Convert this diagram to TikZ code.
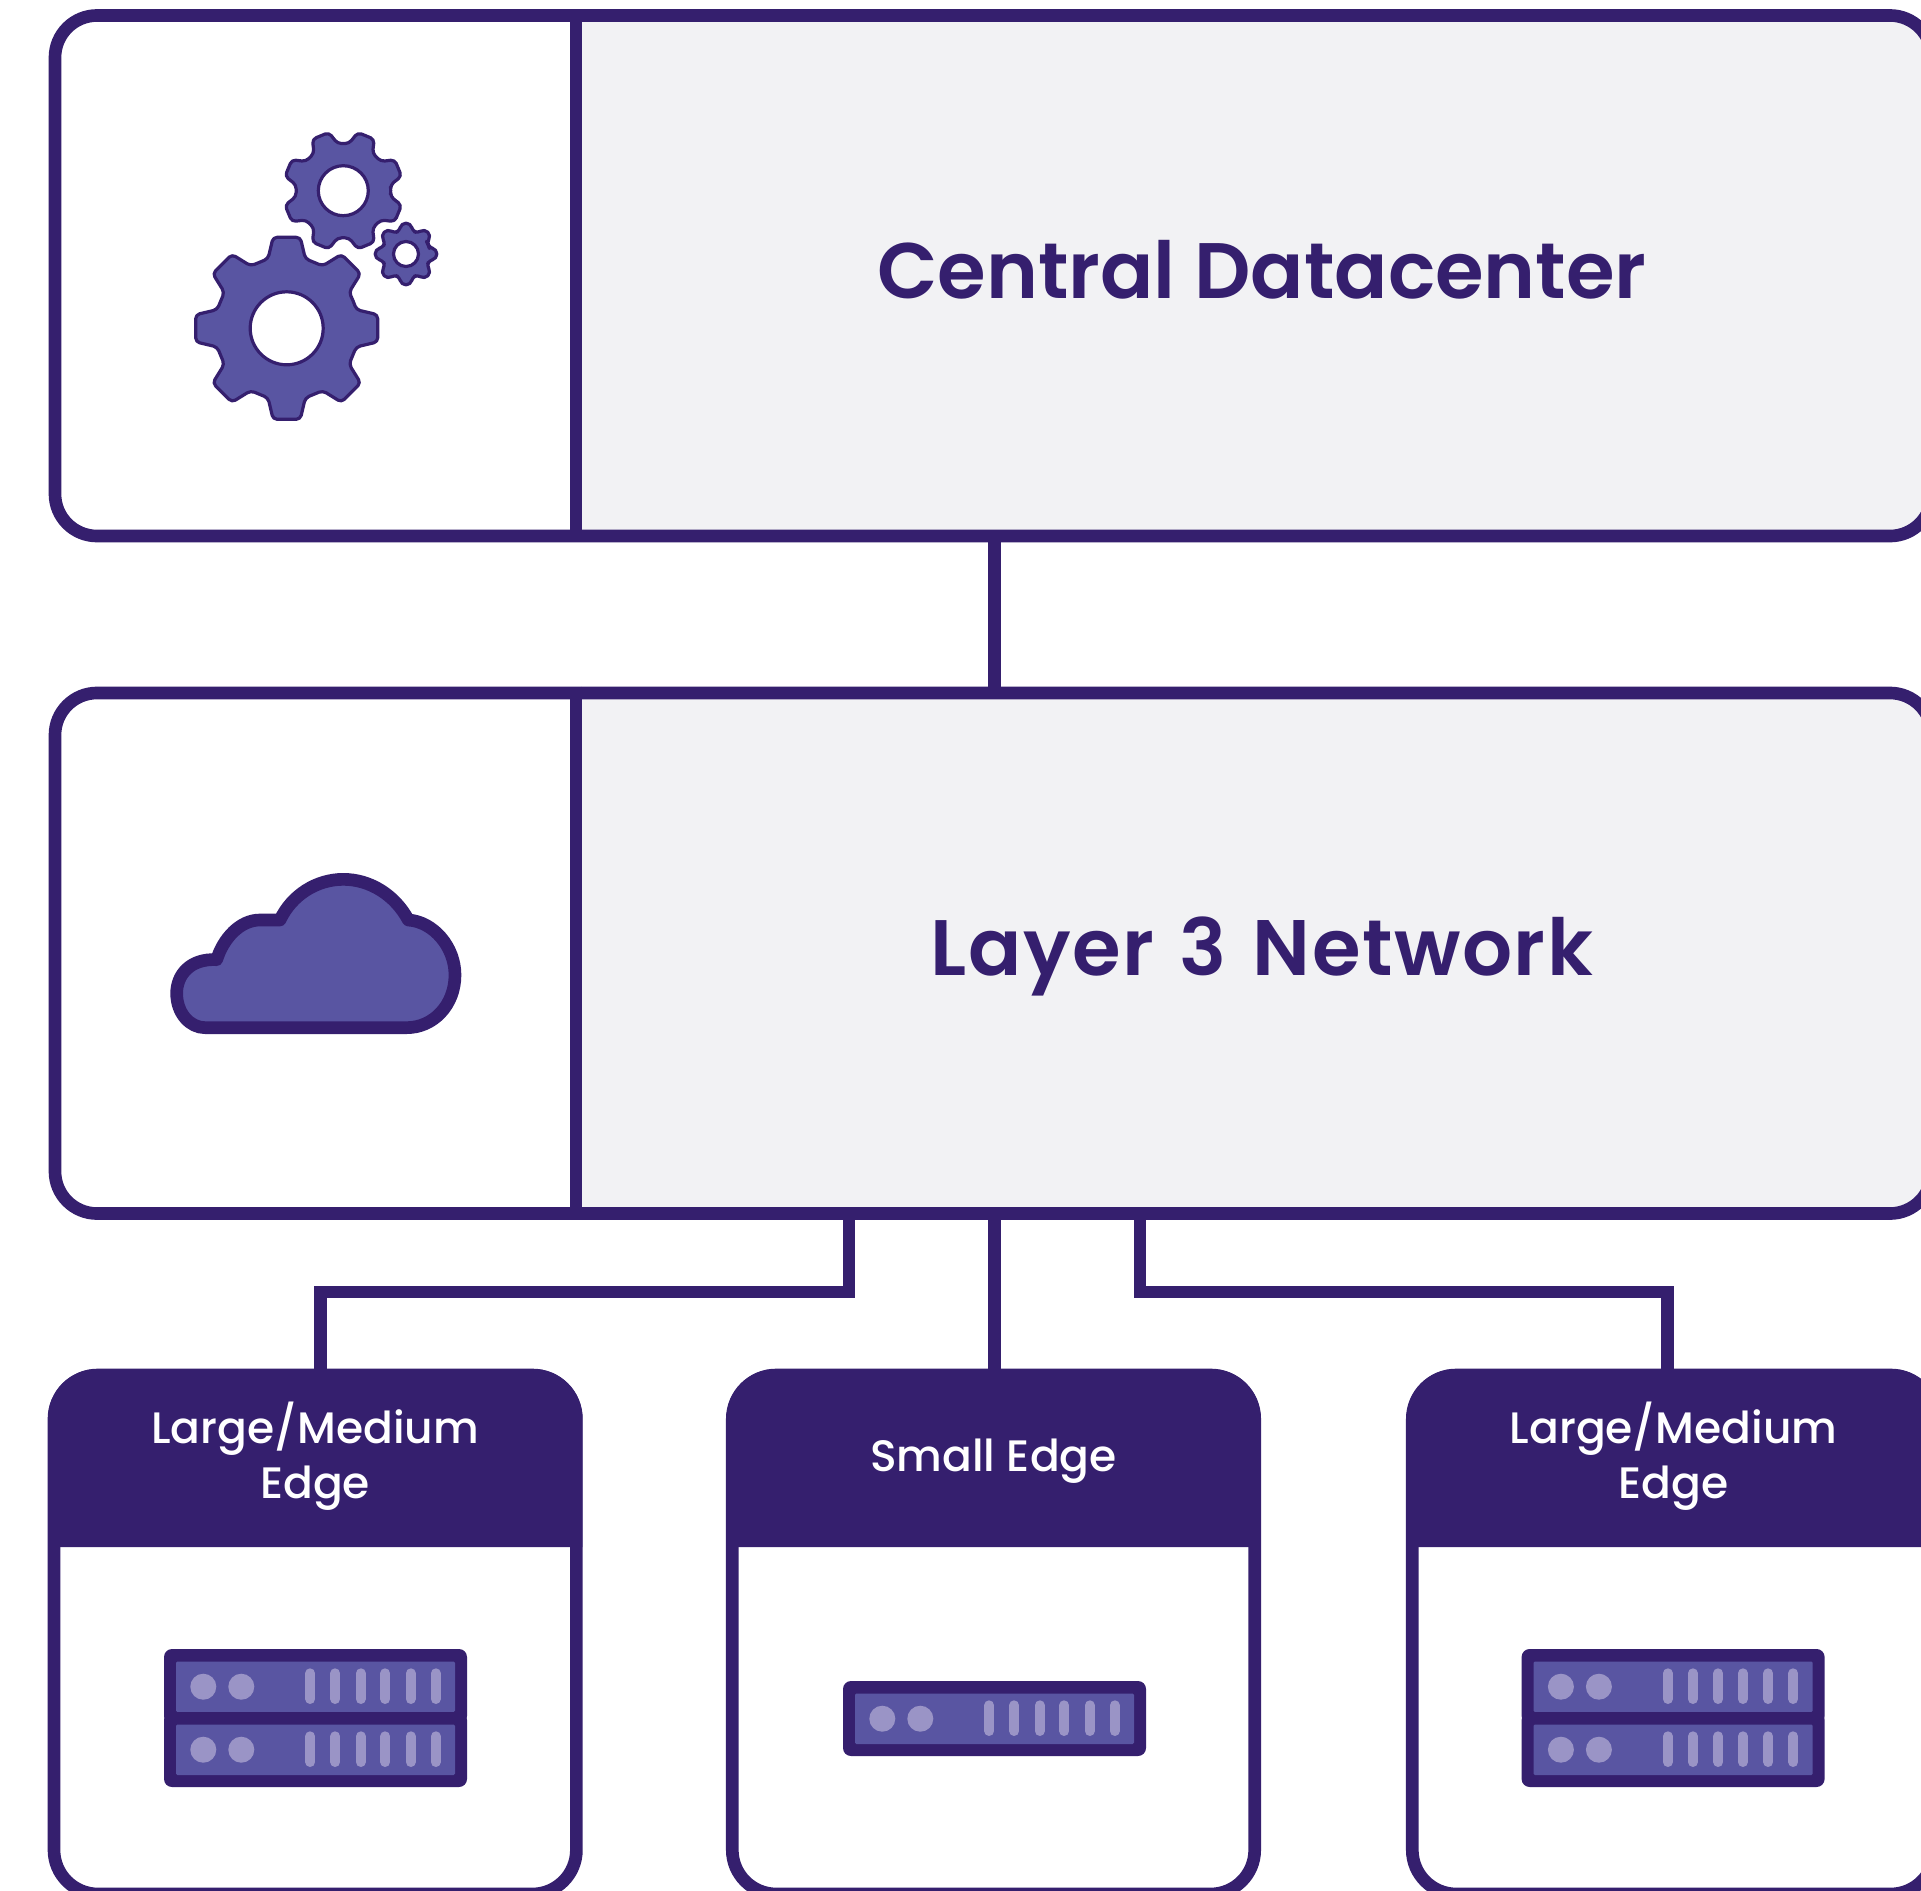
\documentclass[tikz,border=0pt]{standalone}
\usepackage{fontspec}
\setmainfont{Poppins}
\newfontfamily\titleface{Poppins}[UprightFont=* SemiBold]
\newfontfamily\cardface{Poppins}[UprightFont=* Medium]
\definecolor{inkdark}{HTML}{351F6E}
\definecolor{inkmid}{HTML}{5955A2}
\definecolor{inklight}{HTML}{9A94C6}
\definecolor{panelgray}{HTML}{F2F2F4}
\tikzset{
  panel/.style={draw=inkdark,line width=9.5pt,rounded corners=31.5pt,minimum width=1407.75pt,minimum height=390.4pt,inner sep=0pt},
  card/.style={draw=inkdark,line width=9.5pt,rounded corners=33pt,minimum width=391.8pt,minimum height=389.25pt,inner sep=0pt},
  wire/.style={draw=inkdark,line width=9.5pt,line join=miter},
  titletext/.style={text=inkdark,font=\fontsize{59}{70}\selectfont\titleface,anchor=base,inner sep=0pt},
  cardtext/.style={text=white,font=\fontsize{33}{41}\selectfont\cardface,align=center,anchor=center,inner sep=0pt},
  cogshape/.style={draw=inkdark,fill=inkmid,line width=2.4pt,rounded corners=3pt,line join=round},
  coghole/.style={draw=inkdark,fill=white,line width=2.4pt},
  cloudshape/.style={draw=inkdark,fill=inkmid,line width=9.5pt,line join=round},
  unitbar/.style={draw=inklight,line width=7.5pt,line cap=round},
}
% cx cy rotation tipR rootR tipHalfAngle baseHalfAngle holeR
\newcommand\cogwheel[8]{%
  \begin{scope}[shift={(#1,#2)}]
    \draw[cogshape] ({#3-22.5}:#5)
      \foreach \k in {0,...,7}{
        -- ({#3+45*\k-#7}:#5) -- ({#3+45*\k-#6}:#4) -- ({#3+45*\k+#6}:#4) -- ({#3+45*\k+#7}:#5)
      } -- cycle;
    \draw[coghole] (0,0) circle[radius=#8];
  \end{scope}}
% left, top of one rack unit
\newcommand\rackunit[2]{%
  \begin{scope}[shift={(#1,#2)}]
    \fill[inkdark,rounded corners=6pt] (0,0) rectangle (303,75);
    \fill[inkmid,rounded corners=1pt] (12,12.5) rectangle (291,63);
    \fill[inklight] (39.3,37.7) circle[radius=13] (77.3,37.7) circle[radius=13];
    \foreach \bx in {146.3,171.3,196.7,221.3,246.7,271.7}
      \draw[unitbar] (\bx,24.3) -- (\bx,50);
  \end{scope}}
\begin{document}
\begin{tikzpicture}[x=0.75pt,y=-0.75pt]
\useasboundingbox (0,0) rectangle (1921,1891);
\clip (0,0) rectangle (1921,1891);
\fill[white] (0,0) rectangle (1921,1891);

% panel fills
\fill[panelgray] (576,15.5) [rounded corners=31.5pt] -- (1932,15.5) -- (1932,536) [sharp corners] -- (576,536) -- cycle;
\fill[panelgray] (576,693) [rounded corners=31.5pt] -- (1932,693) -- (1932,1213.5) [sharp corners] -- (576,1213.5) -- cycle;

% panels
\node[panel] (central) at (993.5,275.75) {};
\node[panel] (layer3) at (993.5,953.25) {};

% cards: headers then frames
\node[card] (cardA) at (315.2,1634.5) {};
\node[card] (cardB) at (993.5,1634.5) {};
\node[card] (cardC) at (1673.5,1634.5) {};
\fill[inkdark] (48,1547) [rounded corners=37pt] -- (48,1369) -- (582.4,1369) [sharp corners] -- (582.4,1547) -- cycle;
\fill[inkdark] (726.5,1547) [rounded corners=37pt] -- (726.5,1369) -- (1260.6,1369) [sharp corners] -- (1260.6,1547) -- cycle;
\fill[inkdark] (1406.5,1547) [rounded corners=37pt] -- (1406.5,1369) -- (1940.5,1369) [sharp corners] -- (1940.5,1547) -- cycle;

% panel dividers
\coordinate (divider) at (576,0);
\draw[wire] (divider |- central.north) -- (divider |- central.south);
\draw[wire] (divider |- layer3.north) -- (divider |- layer3.south);

% connectors
\coordinate (trunk) at (994.7,0);
\coordinate (leftdrop) at (849,1292);
\coordinate (rightdrop) at (1140,1292);
\coordinate (leftcard) at (320.8,0);
\coordinate (rightcard) at (1667.6,0);
\draw[wire] (trunk |- central.south) -- (trunk |- layer3.north);
\draw[wire] (trunk |- layer3.south) -- (trunk |- cardB.north);
\draw[wire] (leftdrop |- layer3.south) -- (leftdrop) -| (leftcard |- cardA.north);
\draw[wire] (rightdrop |- layer3.south) -- (rightdrop) -| (rightcard |- cardC.north);

% titles
\node[titletext] (titleA) at (1262,298) {Central Datacenter};
\node[titletext] (titleB) at (1262,975) {\addfontfeature{LetterSpace=2}Layer\hspace{4pt} 3\hspace{4pt} Network};

% card labels
\node[cardtext] (labelA) at (315.2,1456) {Large/Medium\\Edge};
\node[cardtext] (labelB) at (993.5,1461) {Small Edge};
\node[cardtext] (labelC) at (1673.5,1456) {Large/Medium\\Edge};

% gears
\cogwheel{286.7}{328.3}{0}{92}{72}{8.5}{15}{36.5}
\cogwheel{343.3}{190.7}{22.5}{60}{47.5}{8.5}{15.5}{25}
\cogwheel{406}{254}{0}{31}{24}{8.5}{15.5}{12.5}

% cloud
\begin{scope}[xshift=112.5pt,yshift=-645pt,x=0.25pt,y=-0.25pt]
\draw[cloudshape] (165,503) -- (770,503)
  .. controls (850,503) and (915,435) .. (915,345)
  .. controls (915,260) and (850,185) .. (775,180)
  .. controls (735,105) and (660,58) .. (580,58)
  .. controls (500,58) and (425,105) .. (390,180)
  .. controls (370,180) and (350,180) .. (330,180)
  .. controls (270,180) and (220,235) .. (200,299)
  .. controls (120,295) and (80,345) .. (80,400)
  .. controls (80,460) and (120,503) .. (165,503) -- cycle;
\end{scope}

% servers
\rackunit{164}{1649}
\rackunit{164}{1712}
\rackunit{843}{1681}
\rackunit{1521.6}{1649}
\rackunit{1521.6}{1712}
\end{tikzpicture}
\end{document}
